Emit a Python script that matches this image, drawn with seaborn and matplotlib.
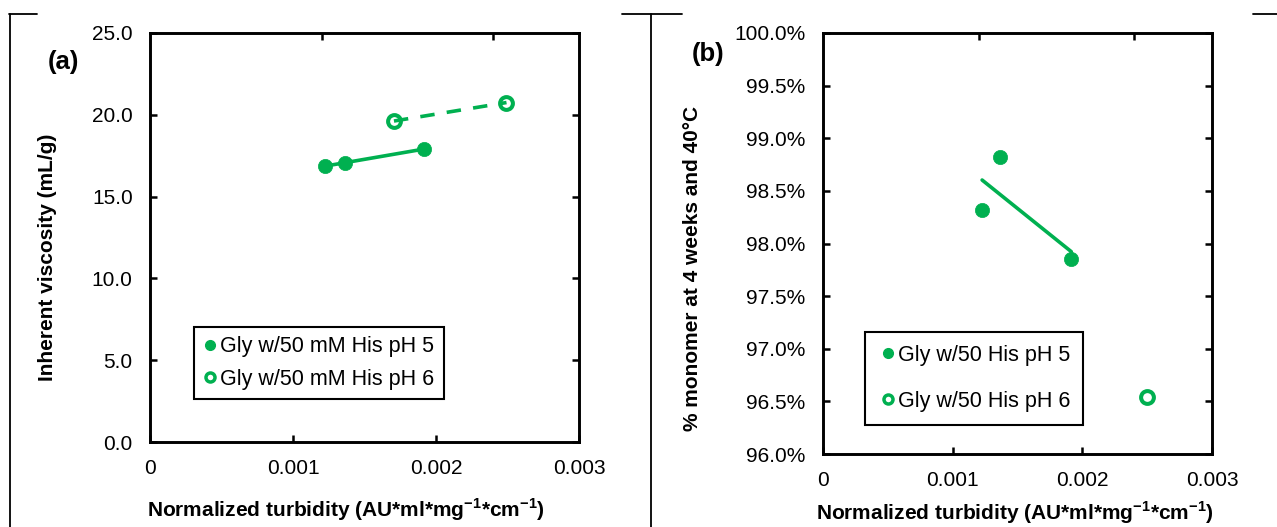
import matplotlib
matplotlib.use("Agg")
import matplotlib.pyplot as plt
from matplotlib.lines import Line2D
from matplotlib.ticker import FuncFormatter, MultipleLocator
import seaborn as sns

# Normalized turbidity (AU*ml*mg^-1*cm^-1)
turb_ph5 = [0.001227, 0.001367, 0.001915]
turb_ph6 = [0.001706, 0.002493]

# Panel (a): inherent viscosity (mL/g)
visc_ph5 = [16.89, 17.05, 17.91]
visc_ph6 = [19.62, 20.75]

# Panel (b): % monomer at 4 weeks and 40 °C
monomer_turb_ph6 = [0.002495]
monomer_ph5 = [98.32, 98.82, 97.85]
monomer_ph6 = [96.54]

labels_a = ["Gly w/50 mM His pH 5", "Gly w/50 mM His pH 6"]
labels_b = ["Gly w/50 His pH 5", "Gly w/50 His pH 6"]
x_ticks = [0, 0.001, 0.002, 0.003]
x_ticklabels = ["0", "0.001", "0.002", "0.003"]

sns.set_theme(style="white")
plt.rcParams["font.family"] = ["Liberation Sans", "DejaVu Sans"]
plt.rcParams["mathtext.fontset"] = "custom"
plt.rcParams["mathtext.rm"] = "Liberation Sans"
plt.rcParams["mathtext.bf"] = "Liberation Sans:bold"

GREEN = "#00B050"
W, H = 1277, 527
fig = plt.figure(figsize=(W / 100, H / 100), dpi=100)
fig.patch.set_facecolor("white")

ax_a = fig.add_axes([150 / W, 1 - 442 / H, (579 - 150) / W, (442 - 33) / H])
ax_b = fig.add_axes([823 / W, 1 - 454 / H, (1212 - 823) / W, (454 - 33) / H])

XLABEL = r"Normalized turbidity (AU*ml*mg$^{\mathbf{-1}}$*cm$^{\mathbf{-1}}$)"


def draw_points(ax, x5, y5, x6, y6):
    sns.scatterplot(x=x5, y=y5, ax=ax, s=105, color=GREEN, edgecolor=GREEN,
                    linewidth=0.5, zorder=2, legend=False)
    sns.scatterplot(x=x6, y=y6, ax=ax, s=85, facecolor="white", edgecolor=GREEN,
                    linewidth=2.9, zorder=2, legend=False)


def style_axes(ax, ylim, ystep, yfmt):
    tw = ax.twiny()
    tw.set_xlim(0, 1)
    tw.set_xticks([0.4, 0.8])
    tw.tick_params(axis="x", direction="in", length=5, width=1.8,
                   labeltop=False, top=True, color="black")
    for sp in tw.spines.values():
        sp.set_visible(False)

    ax.set_xlim(0, 0.003)
    ax.set_ylim(*ylim)
    ax.set_xticks(x_ticks)
    ax.set_xticklabels(x_ticklabels)
    ax.yaxis.set_major_locator(MultipleLocator(ystep))
    ax.yaxis.set_major_formatter(FuncFormatter(yfmt))
    ax.tick_params(axis="both", direction="in", length=5, width=1.8,
                   labelsize=15, colors="black", left=True, right=True,
                   bottom=True, top=False)
    ax.tick_params(axis="x", pad=12.5)
    ax.tick_params(axis="y", pad=12.5)
    for sp in ax.spines.values():
        sp.set_visible(True)
        sp.set_color("black")
        sp.set_linewidth(2.1)
    ax.set_facecolor("white")
    ax.grid(False)


def add_legend(ax, labels, anchor, spacing, borderpad, handlelength, textpad):
    handles = [
        Line2D([], [], ls="none", marker="o", markersize=7, color=GREEN,
               markeredgecolor=GREEN),
        Line2D([], [], ls="none", marker="o", markersize=6.5,
               markerfacecolor="white", markeredgecolor=GREEN,
               markeredgewidth=2.5),
    ]
    leg = ax.legend(handles, labels, loc="upper left", bbox_to_anchor=anchor,
                    borderaxespad=0, fontsize=15.5, frameon=True, fancybox=False,
                    edgecolor="black", framealpha=1, handlelength=handlelength,
                    handletextpad=textpad, labelspacing=spacing,
                    borderpad=borderpad)
    leg.get_frame().set_linewidth(1.5)
    for t in leg.get_texts():
        t.set_color("black")


# ---- Panel (a) ----
sns.regplot(x=turb_ph5, y=visc_ph5, ax=ax_a, scatter=False, ci=None,
            truncate=True, color=GREEN, line_kws=dict(lw=2.6, zorder=3))
sns.regplot(x=turb_ph6, y=visc_ph6, ax=ax_a, scatter=False, ci=None,
            truncate=True, color=GREEN,
            line_kws=dict(lw=2.6, ls=(0, (4, 3.4)), zorder=3))
draw_points(ax_a, turb_ph5, visc_ph5, turb_ph6, visc_ph6)
style_axes(ax_a, (0, 25), 5, lambda v, p: f"{v:.1f}")
ax_a.set_xlabel(XLABEL, fontsize=15, fontweight="bold", color="black")
ax_a.set_ylabel("Inherent viscosity (mL/g)", fontsize=15, fontweight="bold",
                color="black")
ax_a.xaxis.set_label_coords(0.457, -0.132)
ax_a.yaxis.set_label_coords(-0.217, 0.452)
add_legend(ax_a, labels_a, (0.103, 0.281), 0.55, 0.42, 0.6, 0.2)

# ---- Panel (b) ----
sns.regplot(x=turb_ph5, y=monomer_ph5, ax=ax_b, scatter=False, ci=None,
            truncate=True, color=GREEN, line_kws=dict(lw=2.6, zorder=3))
draw_points(ax_b, turb_ph5, monomer_ph5, monomer_turb_ph6, monomer_ph6)
style_axes(ax_b, (96, 100), 0.5, lambda v, p: f"{v:.1f}%")
ax_b.set_xlabel(XLABEL, fontsize=15, fontweight="bold", color="black")
ax_b.set_ylabel("% monomer at 4 weeks and 40°C", fontsize=15,
                fontweight="bold", color="black")
ax_b.xaxis.set_label_coords(0.494, -0.107)
ax_b.yaxis.set_label_coords(-0.311, 0.44)
add_legend(ax_b, labels_b, (0.108, 0.29), 1.15, 0.6, 0.93, 0.0)

# Panel tags
fig.text(63 / W, 1 - 62 / H, "(a)", fontsize=18.5, fontweight="bold",
         ha="center", va="center", color="black")
fig.text(708 / W, 1 - 54 / H, "(b)", fontsize=18.5, fontweight="bold",
         ha="center", va="center", color="black")

# Surrounding cell borders
for (x0, y0, x1, y1) in [(9, 14, 37, 14), (10, 14, 10, 527),
                         (622, 14, 682, 14), (651, 14, 651, 527),
                         (1253, 14, 1277, 14)]:
    fig.add_artist(Line2D([x0 / W, x1 / W], [1 - y0 / H, 1 - y1 / H],
                          transform=fig.transFigure, color="black", lw=1.3))

fig.savefig("out.png", dpi=100, facecolor="white")
